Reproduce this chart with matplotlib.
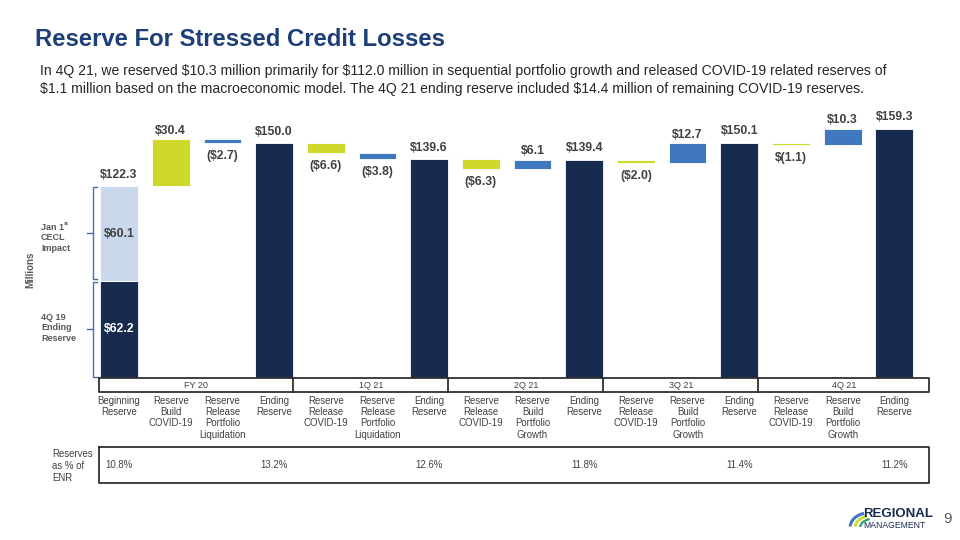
import matplotlib.pyplot as plt
from matplotlib.patches import Arc

plt.rcParams['text.parse_math'] = False
plt.rcParams['font.family'] = ['Liberation Sans', 'DejaVu Sans']

# data
categories = ["Beginning\nReserve", "Reserve\nBuild\nCOVID-19", "Reserve\nRelease\nPortfolio\nLiquidation",
              "Ending\nReserve", "Reserve\nRelease\nCOVID-19", "Reserve\nRelease\nPortfolio\nLiquidation",
              "Ending\nReserve", "Reserve\nRelease\nCOVID-19", "Reserve\nBuild\nPortfolio\nGrowth",
              "Ending\nReserve", "Reserve\nRelease\nCOVID-19", "Reserve\nBuild\nPortfolio\nGrowth",
              "Ending\nReserve", "Reserve\nRelease\nCOVID-19", "Reserve\nBuild\nPortfolio\nGrowth",
              "Ending\nReserve"]
kinds = ["begin", "covid", "port", "end", "covid", "port", "end", "covid", "port", "end",
         "covid", "port", "end", "covid", "port", "end"]
values = [122.3, 30.4, -2.7, 150.0, -6.6, -3.8, 139.6, -6.3, 6.1, 139.4,
          -2.0, 12.7, 150.1, -1.1, 10.3, 159.3]
labels = ["$122.3", "$30.4", "($2.7)", "$150.0", "($6.6)", "($3.8)", "$139.6", "($6.3)", "$6.1",
          "$139.4", "($2.0)", "$12.7", "$150.1", "$(1.1)", "$10.3", "$159.3"]
begin_parts = [62.2, 60.1]
begin_labels = ["$62.2", "$60.1"]
groups = ["FY 20", "1Q 21", "2Q 21", "3Q 21", "4Q 21"]
group_last = [3, 6, 9, 12, 15]
pct_cols = [0, 3, 6, 9, 12, 15]
pct_labels = ["10.8%", "13.2%", "12.6%", "11.8%", "11.4%", "11.2%"]

navy = '#172b4f'
light = '#c9d8ec'
lime = '#cfd92b'
blue = '#3f78be'
txt = '#404040'
colors = {"covid": lime, "port": blue, "end": navy}

W, H = 960, 540
fig = plt.figure(figsize=(9.6, 5.4), dpi=100)


def fx(px):
    return px / W


def fy(py):
    return 1 - py / H


x0, x1 = -0.387, 15.67
ax = fig.add_axes([fx(99), fy(378), fx(929) - fx(99), fy(110) - fy(378)])
ax.set_xlim(x0, x1)
ax.set_ylim(0, 268 / 1.566)
ax.axis('off')

bw = 0.73
fs = 8.8
level = 0
for i, (k, v, lab) in enumerate(zip(kinds, values, labels)):
    if k == "begin":
        ax.bar(i, begin_parts[0], bw, color=navy, edgecolor='white', lw=0.6)
        ax.bar(i, begin_parts[1], bw, bottom=begin_parts[0], color=light, edgecolor='white', lw=0.6)
        ax.text(i, begin_parts[0] / 2, begin_labels[0], ha='center', va='center', color='white',
                fontsize=fs, fontweight='bold')
        ax.text(i, begin_parts[0] + begin_parts[1] / 2, begin_labels[1], ha='center', va='center',
                color=txt, fontsize=fs, fontweight='bold')
        level = v
        ax.text(i, v + 3.5, lab, ha='center', va='bottom', color=txt, fontsize=fs, fontweight='bold')
    elif k == "end":
        ax.bar(i, v, bw, color=navy, edgecolor='white', lw=0.6)
        level = v
        ax.text(i, v + 3.5, lab, ha='center', va='bottom', color=txt, fontsize=fs, fontweight='bold')
    else:
        bottom = min(level, level + v)
        ax.bar(i, abs(v), bw, bottom=bottom, color=colors[k], edgecolor='white', lw=0.6)
        if v > 0:
            ax.text(i, level + v + 1.5, lab, ha='center', va='bottom', color=txt, fontsize=fs, fontweight='bold')
        else:
            ax.text(i, level + v - 4.5, lab, ha='center', va='top', color=txt, fontsize=fs, fontweight='bold')
        level = level + v

# braces on the left
bc = '#4a6fa5'
for lo, hi in [(0.8, begin_parts[0] - 0.8), (begin_parts[0] + 0.8, values[0] - 0.5)]:
    xb = -0.51
    ax.plot([xb + 0.09, xb, xb, xb + 0.09], [lo, lo, hi, hi], color=bc, lw=1, clip_on=False)
    ax.plot([xb, xb - 0.1], [(lo + hi) / 2] * 2, color=bc, lw=1, clip_on=False)

fig.text(fx(41), fy(227), "Jan 1", fontsize=6.5, fontweight='bold', color='#595959', va='center')
fig.text(fx(64), fy(224), "st", fontsize=4, fontweight='bold', color='#595959', va='center')
fig.text(fx(41), fy(243), "CECL\nImpact", fontsize=6.5, fontweight='bold', color='#595959',
         va='center', linespacing=1.25)
fig.text(fx(41), fy(328), "4Q 19\nEnding\nReserve", fontsize=6.5, fontweight='bold', color='#595959',
         va='center', linespacing=1.25)
fig.text(fx(30), fy(270), "Millions", fontsize=7, fontweight='bold', color='#595959',
         rotation=90, ha='center', va='center')

# table
tab = fig.add_axes([fx(99), fy(500), fx(929) - fx(99), fy(378) - fy(500)])
tab.set_xlim(x0, x1)
tab.set_ylim(500, 378)
tab.axis('off')
lc = '#303030'
tab.plot([x0, x1, x1, x0, x0], [378.5, 378.5, 392, 392, 378.5], color=lc, lw=1.3, clip_on=False)
start = x0
for g, last in zip(groups, group_last):
    end = x1 if last == 15 else last + 0.37
    if last != 15:
        tab.plot([end, end], [378.5, 392], color=lc, lw=1.3, clip_on=False)
    tab.text((start + end) / 2, 385.5, g, ha='center', va='center', fontsize=6.5, color=txt)
    start = end
for i, c in enumerate(categories):
    tab.text(i, 396, c, ha='center', va='top', fontsize=6.9, color=txt, linespacing=1.15)

tab.plot([x0, x1, x1, x0, x0], [447, 447, 483, 483, 447], color=lc, lw=1.3, clip_on=False)
for c, p in zip(pct_cols, pct_labels):
    tab.text(c, 465, p, ha='center', va='center', fontsize=6.9, color=txt)
fig.text(fx(52), fy(466), "Reserves\nas % of\nENR", fontsize=6.9, color=txt, va='center', linespacing=1.3)

# title and subtitle
fig.text(fx(35), fy(40), "Reserve For Stressed Credit Losses", fontsize=17.2, fontweight='bold',
         color='#1d3e78', va='center')
fig.text(fx(40), fy(80),
         "In 4Q 21, we reserved $10.3 million primarily for $112.0 million in sequential portfolio growth "
         "and released COVID-19 related reserves of\n$1.1 million based on the macroeconomic model. "
         "The 4Q 21 ending reserve included $14.4 million of remaining COVID-19 reserves.",
         fontsize=10.1, color='#262626', va='center', linespacing=1.3)

# logo and page number
lg = fig.add_axes([fx(842), fy(532), fx(942) - fx(842), fy(505) - fy(532)])
lg.set_xlim(0, 100)
lg.set_ylim(0, 27)
lg.axis('off')
lg.add_patch(Arc((26, 4), 36, 30, theta1=105, theta2=175, color='#3f78be', lw=2.2))
lg.add_patch(Arc((28, 4), 30, 24, theta1=105, theta2=175, color='#cfd92b', lw=2))
lg.add_patch(Arc((30, 4), 24, 18, theta1=105, theta2=175, color='#17a35a', lw=1.5))
lg.text(21, 18, "REGIONAL", fontsize=9.5, fontweight='bold', color=navy, va='center')
lg.text(21, 7, "MANAGEMENT", fontsize=6.2, color=navy, va='center')
fig.text(fx(948), fy(519), "9", fontsize=11, color='#595959', va='center', ha='center')

fig.savefig('out.png', dpi=100)
